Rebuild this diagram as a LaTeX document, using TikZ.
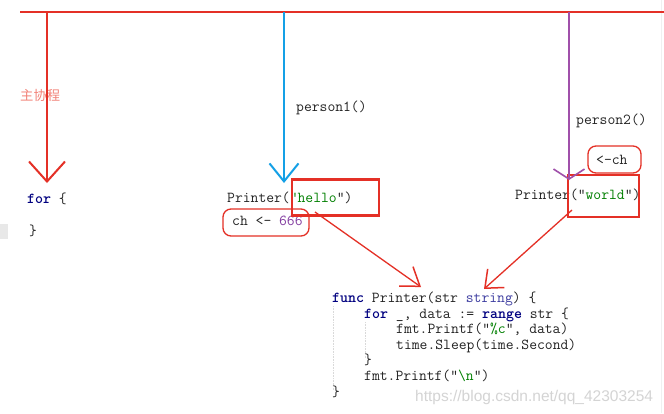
\documentclass[tikz,border=0pt]{standalone}
\usepackage{fontspec}
\newfontfamily\cjkfont{Noto Sans CJK SC}
\newfontfamily\wmfont{Liberation Sans}
\usetikzlibrary{arrows.meta}
\definecolor{redl}{RGB}{228,48,38}
\definecolor{bluel}{RGB}{20,160,230}
\definecolor{purpl}{RGB}{160,80,170}
\definecolor{cjkc}{RGB}{242,130,120}
\definecolor{kwc}{RGB}{0,0,128}
\definecolor{strc}{RGB}{0,128,0}
\definecolor{numc}{RGB}{130,60,160}
\definecolor{typc}{RGB}{60,60,160}
\definecolor{codec}{RGB}{35,35,35}
\definecolor{wmc}{RGB}{212,212,212}
\newcommand{\kw}[1]{\textcolor{kwc}{\bfseries #1}}
\newcommand{\gs}[1]{\textcolor{strc}{#1}}
\begin{document}
\begin{tikzpicture}[x=1pt,y=-1pt,
  code/.style={anchor=base west, inner sep=0pt, font=\fontsize{15.2}{17}\selectfont\ttfamily, text=codec},
  redbox/.style={draw=redl, line width=2.5pt, rectangle, inner sep=0pt},
  roundbox/.style={draw=redl, line width=1.3pt, rectangle, rounded corners=8pt, inner sep=0pt},
  guide/.style={draw=gray!30, densely dotted, line width=0.6pt}]
\useasboundingbox (0,0) rectangle (664,413);
\fill[white] (0,0) rectangle (664,413);
% faint page marks
\fill[gray!18] (0,224) rectangle (8,239);
\draw[gray!12, line width=0.8pt] (661,0) -- (661,413);

% coordinates
\coordinate (tl) at (20,12);
\coordinate (tr) at (664,12);
\coordinate (m0) at (47,12);
\coordinate (m1) at (47,183);
\coordinate (p0) at (284,12);
\coordinate (p1) at (284,183);
\coordinate (q0) at (569,12);
\coordinate (q1) at (569,180);
\coordinate (a1s) at (315,212);
\coordinate (a1e) at (421,287);
\coordinate (a2s) at (572,210);
\coordinate (a2e) at (484,289);

% labels
\node[anchor=base west, inner sep=0pt, font=\cjkfont\fontsize{13.3}{15}\selectfont, text=cjkc] (lbl0) at (20,100) {主协程};
\node[code] (lbl1) at (296,111) {person1()};
\node[code] (lbl2) at (576,124) {person2()};

% main code
\node[code] (for1) at (27,203) {\kw{for} \{};
\node[code] (for2) at (29,235) {\}};

% person1
\node[code] (hello) at (227,202) {Printer(\gs{"hello}")};
\node[code] (send) at (232,225) {ch <- \textcolor{numc}{666}};

% person2
\node[code] (recv) at (596,164) {<-ch};
\node[code] (world) at (515,199) {Printer("\gs{world}")};

% function code
\node[code] (c1) at (332,302) {\kw{func} Printer(str \textcolor{typc}{string}) \{};
\node[code] (c2) at (364,318) {\kw{for} \_, data := \kw{range} str \{};
\node[code] (c3) at (396,333) {fmt.Printf("\gs{\%c}", data)};
\node[code] (c4) at (396,349) {time.Sleep(time.Second)};
\node[code] (c5) at (364,364) {\}};
\node[code] (c6) at (364,380) {fmt.Printf("\gs{\textbackslash n}")};
\node[code] (c7) at (332,396) {\}};
\draw[guide] (333,306) -- (333,390);
\draw[guide] (365,322) -- (365,358);

% watermark
\node[anchor=base west, inner sep=0pt, font=\wmfont\fontsize{15.5}{17}\selectfont, text=wmc] (wm) at (415,401) {https://blog.csdn.net/qq\_42303254};

% boxes
\node[redbox, minimum width=87pt, minimum height=36pt] (hellobox) at (335.5,197.5) {};
\node[redbox, minimum width=71pt, minimum height=42pt] (worldbox) at (603.5,196) {};
\node[roundbox, minimum width=86pt, minimum height=27pt] (sendbox) at (266,222.5) {};
\node[roundbox, minimum width=53pt, minimum height=27pt] (recvbox) at (614.5,159.5) {};

% lines and arrows
\draw[redl, line width=2pt] (tl) -- (tr);
\draw[redl, line width=2pt, -{Straight Barb[length=20pt,width=36pt,line width=2pt]}] (m0) -- (m1);
\draw[bluel, line width=2pt, -{Straight Barb[length=18pt,width=29pt,line width=2pt]}] (p0) -- (p1);
\draw[purpl, line width=1.6pt, -{Straight Barb[length=10pt,width=31pt,line width=1.6pt]}] (q0) -- (q1);
\draw[redl, line width=1.3pt, -{Straight Barb[length=17pt,width=24pt,line width=1.5pt]}] (a1s) -- (a1e);
\draw[redl, line width=1.3pt, -{Straight Barb[length=15pt,width=25pt,line width=1.5pt]}] (a2s) -- (a2e);
\end{tikzpicture}
\end{document}
